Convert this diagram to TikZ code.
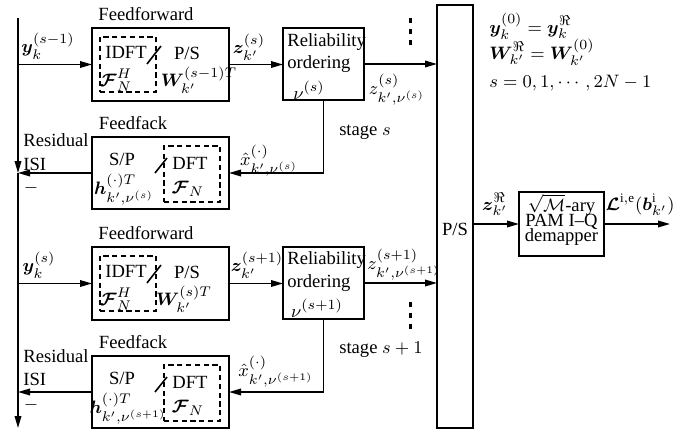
\documentclass[tikz,border=0pt]{standalone}
\usepackage{amsmath,amssymb,bm}
\usepackage{fontspec}
\setmainfont{Liberation Serif}
\usetikzlibrary{arrows.meta}
\begin{document}
\begin{tikzpicture}[x=0.5pt,y=-0.5pt,
  font=\fontsize{9.3}{11}\selectfont,
  box/.style={draw,line width=0.85pt,inner sep=0pt,outer sep=0pt},
  dbox/.style={draw,line width=0.65pt,dash pattern=on 2.6pt off 1.8pt,inner sep=0pt,outer sep=0pt},
  arr/.style={line width=0.8pt,-{Triangle[length=6pt,width=3.3pt]}},
  ln/.style={line width=0.8pt},
  vdots/.style={line width=1.5pt,dash pattern=on 2.6pt off 2.8pt},
  lbl/.style={inner sep=0pt}]
\useasboundingbox (0,0) rectangle (681,434);

% left bus
\coordinate (top) at (18,18);
\coordinate (v1) at (18,173);
\coordinate (bot) at (18,428);
\coordinate (j1) at (18,64.5);
\coordinate (j2) at (18,283.5);
\coordinate (v2) at (18,392);
\draw[arr] (top) -- (v1);
\draw[arr] (v1) -- (bot);

% big P/S
\node[box,minimum width=18pt,minimum height=211.5pt] (ps) at (455,216.5) {};
\node[lbl] (pslbl) at (455,229) {P/S};

% ---------- stage s ----------
\node[box,minimum width=68.5pt,minimum height=36.5pt] (ff1) at (160.5,64.5) {};
\node[dbox,minimum width=28pt,minimum height=27.5pt] (ffd1) at (128,64.5) {};
\node[lbl] (ff1a) at (126,52.5) {IDFT};
\node[lbl] (ff1b) at (116,80) {$\bm{\mathcal{F}}_N^H$};
\node[lbl] (ff1c) at (187,53) {P/S};
\node[lbl] (ff1d) at (199,80) {$\bm{W}_{k'}^{(s-1)T}$};
\draw[ln] (147,64) -- (161,46);
\node[lbl] (fft1) at (146,14) {Feedforward};

\node[box,minimum width=40.5pt,minimum height=36pt] (rel1) at (323.5,64) {};
\node[lbl,anchor=west] (rel1a) at (287,42) {Reliability};
\node[lbl,anchor=west] (rel1b) at (287,64) {ordering};
\node[lbl] (rel1c) at (309,90) {$\nu^{(s)}$};

\node[box,minimum width=68.5pt,minimum height=36pt] (fb1) at (160.5,173) {};
\node[dbox,minimum width=28pt,minimum height=28pt] (fbd1) at (192,174) {};
\node[lbl] (fb1a) at (122,159) {S/P};
\node[lbl] (fb1b) at (190,163) {DFT};
\node[lbl] (fb1c) at (188,189) {$\bm{\mathcal{F}}_N$};
\node[lbl] (fb1d) at (124,190) {$\bm{h}_{k',\nu^{(s)}}^{(\cdot)T}$};
\draw[ln] (155,173) -- (167,158);
\node[lbl] (fbt1) at (133,123) {Feedfack};

\draw[arr] (j1) -- (ff1.west);
\draw[arr] (ff1.east) -- (ff1.east -| rel1.west);
\draw[arr] (rel1.east) -- (rel1.east -| ps.west);
\draw[arr] (rel1.south) |- (fb1.east);
\draw[arr] (fb1.west) -- (v1);
\draw[vdots] (410,18) -- (410,50);

\node[lbl] (y1) at (48,46) {$\bm{y}_k^{(s-1)}$};
\node[lbl] (z1) at (249,47) {$\bm{z}_{k'}^{(s)}$};
\node[lbl] (zz1) at (397,90) {$z_{k',\nu^{(s)}}^{(s)}$};
\node[lbl] (x1) at (269,161) {$\hat{x}_{k',\nu^{(s)}}^{(\cdot)}$};
\node[lbl] (st1) at (365,132) {stage $s$};
\node[lbl,anchor=west] (res1) at (23,140) {Residual};
\node[lbl,anchor=west] (isi1) at (23,164) {ISI};
\node[lbl] (m1) at (31,188) {$-$};

% ---------- stage s+1 ----------
\begin{scope}[yshift=-109.5pt]
\node[box,minimum width=68.5pt,minimum height=36.5pt] (ff2) at (160.5,64.5) {};
\node[dbox,minimum width=28pt,minimum height=27.5pt] (ffd2) at (128,64.5) {};
\node[lbl] (ff2a) at (126,52.5) {IDFT};
\node[lbl] (ff2b) at (116,80) {$\bm{\mathcal{F}}_N^H$};
\node[lbl] (ff2c) at (187,53) {P/S};
\node[lbl] (ff2d) at (184,80) {$\bm{W}_{k'}^{(s)T}$};
\draw[ln] (147,64) -- (161,46);
\node[lbl] (fft2) at (146,14) {Feedforward};

\node[box,minimum width=40.5pt,minimum height=36pt] (rel2) at (323.5,64) {};
\node[lbl,anchor=west] (rel2a) at (287,41) {Reliability};
\node[lbl,anchor=west] (rel2b) at (287,64) {ordering};
\node[lbl] (rel2c) at (317,89) {$\nu^{(s+1)}$};

\node[box,minimum width=68.5pt,minimum height=36pt] (fb2) at (160.5,173) {};
\node[dbox,minimum width=28pt,minimum height=28pt] (fbd2) at (192,174) {};
\node[lbl] (fb2a) at (122,159) {S/P};
\node[lbl] (fb2b) at (190,163) {DFT};
\node[lbl] (fb2c) at (188,189) {$\bm{\mathcal{F}}_N$};
\node[lbl] (fb2d) at (128,190) {$\bm{h}_{k',\nu^{(s+1)}}^{(\cdot)T}$};
\draw[ln] (155,173) -- (167,158);
\node[lbl] (fbt2) at (133,123) {Feedfack};

\node[lbl] (y2) at (39,46) {$\bm{y}_k^{(s)}$};
\node[lbl] (z2) at (257,46) {$\bm{z}_{k'}^{(s+1)}$};
\node[lbl] (zz2) at (404,46) {$z_{k',\nu^{(s+1)}}^{(s+1)}$};
\node[lbl] (x2) at (276,153) {$\hat{x}_{k',\nu^{(s+1)}}^{(\cdot)}$};
\node[lbl] (st2) at (381,131) {stage $s+1$};
\node[lbl,anchor=west] (res2) at (23,137) {Residual};
\node[lbl,anchor=west] (isi2) at (23,160) {ISI};
\node[lbl] (m2) at (31,186) {$-$};
\draw[vdots] (410,83) -- (410,113);
\end{scope}

\draw[arr] (j2) -- (ff2.west);
\draw[arr] (ff2.east) -- (ff2.east -| rel2.west);
\draw[arr] (rel2.east) -- (rel2.east -| ps.west);
\draw[arr] (rel2.south) |- (fb2.east);
\draw[arr] (fb2.west) -- (v2);

% ---------- demapper ----------
\node[box,minimum width=42.5pt,minimum height=32pt] (dem) at (561.5,224) {};
\node[lbl,anchor=base] (dem1) at (561.5,211) {$\sqrt{\mathcal{M}}$-ary};
\node[lbl,anchor=base] (dem2) at (561.5,226.5) {PAM I–Q};
\node[lbl,anchor=base] (dem3) at (561.5,241.5) {demapper};
\coordinate (out) at (670,224);
\draw[arr] (ps.east |- dem.west) -- (dem.west);
\draw[arr] (dem.east) -- (out);
\node[lbl] (zr) at (495,204) {$\bm{z}_{k'}^{\Re}$};
\node[lbl] (llr) at (640,205) {$\bm{\mathcal{L}}^{\mathrm{i,e}}(\bm{b}_{k'}^{\mathrm{i}})$};

% ---------- notes ----------
\node[lbl,anchor=base west] (n1) at (489,33) {$\bm{y}_k^{(0)}=\bm{y}_k^{\Re}$};
\node[lbl,anchor=base west] (n2) at (489,59) {$\bm{W}_{k'}^{\Re}=\bm{W}_{k'}^{(0)}$};
\node[lbl,anchor=base west] (n3) at (489,87) {$s=0,1,\cdots,2N-1$};
\end{tikzpicture}
\end{document}
